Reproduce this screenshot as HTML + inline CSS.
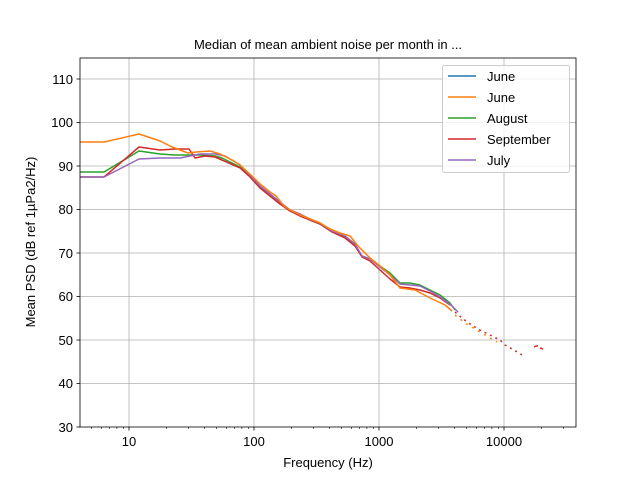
<!DOCTYPE html>
<html><head><meta charset="utf-8"><style>body{margin:0;background:#fff}svg{display:block}</style></head><body>
<svg width="640" height="480" viewBox="0 0 640 480" font-family="Liberation Sans, DejaVu Sans, sans-serif">
<rect width="640" height="480" fill="#fff"/>
<g stroke="#b0b0b0" stroke-width="0.8">
<line x1="129" y1="58" x2="129" y2="427"/><line x1="254" y1="58" x2="254" y2="427"/><line x1="379" y1="58" x2="379" y2="427"/><line x1="504" y1="58" x2="504" y2="427"/>
<line x1="80" y1="383.5" x2="576" y2="383.5"/><line x1="80" y1="340" x2="576" y2="340"/><line x1="80" y1="296.5" x2="576" y2="296.5"/><line x1="80" y1="253" x2="576" y2="253"/><line x1="80" y1="209.5" x2="576" y2="209.5"/><line x1="80" y1="166" x2="576" y2="166"/><line x1="80" y1="122.5" x2="576" y2="122.5"/><line x1="80" y1="79" x2="576" y2="79"/>
</g>
<g fill="none" stroke-width="1.5" stroke-linejoin="round">
<polyline stroke="#2ca02c" points="80,172 104,172 139,151 160,154 175,155 200,155 215,156 222,158 240,167 250,176 260,187 270,195 280,203 290,211 300,215 310,220 320,224 332,231 345,237 355,245 362,256 370,259 380,266 390,273 400,283 410,283 420,285 430,290 440,295 450,303 455,310"/>
<polyline stroke="#d62728" points="80,177 104,177 139,147 160,150 175,149 189,149 195,158 205,156 215,157 222,160 240,168 250,177 260,188 270,196 280,204 290,211 300,216 310,220 320,224 332,232 345,238 355,246 362,257 370,261 380,270 390,279 400,287 410,288 420,290 430,293 440,298 450,305"/>
<polyline stroke="#9467bd" points="80,177 104,177 139,159 160,158 180,158 200,154 215,154 225,156 240,165 250,175 260,186 270,194 280,202 290,210 300,214 310,219 320,223 332,231 345,236 355,244 362,256 370,259 380,267 390,275 400,284 410,285 420,286 430,291 440,297 452,306 458,312"/>
<polyline stroke="#ff7f0e" points="80,142 104,142 139,134 160,141 172,147 188,153 196,152 210,151 220,154 232,160 240,165 252,176 260,184 270,192 276,196 284,206 292,211 300,215 310,219 320,223 330,229 340,233 350,236 358,246 370,258 380,266 390,275 400,288 415,290 430,298 445,305 452,311"/>
<polyline stroke="#d62728" stroke-dasharray="2,4" points="455,312 462,318 470,324 480,330 490,335 500,340 505,345 512,349 524,356"/>
<polyline stroke="#ff7f0e" stroke-dasharray="2,5" points="455,315 465,323 475,329 497,342"/>
<polyline stroke="#d62728" points="534,347 536,346 538,346"/><polyline stroke="#d62728" points="540,348 543,349"/>
</g>
<rect x="80" y="58" width="496" height="369" fill="none" stroke="#000" stroke-width="0.8"/>
<g stroke="#000" stroke-width="0.6">
<path d="M91.4,427v2M101.3,427v2M109.6,427v2M116.9,427v2M123.3,427v2M166.6,427v2M188.6,427v2M204.3,427v2M216.4,427v2M226.3,427v2M234.6,427v2M241.9,427v2M248.3,427v2M291.6,427v2M313.6,427v2M329.3,427v2M341.4,427v2M351.3,427v2M359.6,427v2M366.9,427v2M373.3,427v2M416.6,427v2M438.6,427v2M454.3,427v2M466.4,427v2M476.3,427v2M484.6,427v2M491.9,427v2M498.3,427v2M541.6,427v2M563.6,427v2"/>
</g>
<g stroke="#000" stroke-width="0.8">
<line x1="129" y1="427" x2="129" y2="430.5"/><line x1="254" y1="427" x2="254" y2="430.5"/><line x1="379" y1="427" x2="379" y2="430.5"/><line x1="504" y1="427" x2="504" y2="430.5"/>
<line x1="76.5" y1="427" x2="80" y2="427"/><line x1="76.5" y1="383.5" x2="80" y2="383.5"/><line x1="76.5" y1="340" x2="80" y2="340"/><line x1="76.5" y1="296.5" x2="80" y2="296.5"/><line x1="76.5" y1="253" x2="80" y2="253"/><line x1="76.5" y1="209.5" x2="80" y2="209.5"/><line x1="76.5" y1="166" x2="80" y2="166"/><line x1="76.5" y1="122.5" x2="80" y2="122.5"/><line x1="76.5" y1="79" x2="80" y2="79"/>
</g>
<g font-size="13" fill="#000" text-anchor="end">
<text x="73" y="432">30</text><text x="73" y="388">40</text><text x="73" y="345">50</text><text x="73" y="301">60</text><text x="73" y="258">70</text><text x="73" y="214">80</text><text x="73" y="171">90</text><text x="73" y="127">100</text><text x="73" y="84">110</text>
</g>
<g font-size="13" fill="#000" text-anchor="middle">
<text x="129" y="446">10</text><text x="254" y="446">100</text><text x="379" y="446">1000</text><text x="504" y="446">10000</text>
<text x="328" y="467">Frequency (Hz)</text>
<text x="328" y="49">Median of mean ambient noise per month in ...</text>
<text transform="translate(35,242) rotate(-90)">Mean PSD (dB ref 1µPa2/Hz)</text>
</g>
<rect x="442.5" y="65.5" width="127" height="107" rx="2" fill="#fff" fill-opacity="0.8" stroke="#ccc"/>
<g stroke-width="1.5">
<line x1="448" y1="76" x2="476" y2="76" stroke="#1f77b4"/><line x1="448" y1="97" x2="476" y2="97" stroke="#ff7f0e"/><line x1="448" y1="118" x2="476" y2="118" stroke="#2ca02c"/><line x1="448" y1="139" x2="476" y2="139" stroke="#d62728"/><line x1="448" y1="160" x2="476" y2="160" stroke="#9467bd"/>
</g>
<g font-size="13" fill="#000">
<text x="487" y="81">June</text><text x="487" y="102">June</text><text x="487" y="123">August</text><text x="487" y="144">September</text><text x="487" y="165">July</text>
</g>
</svg>
</body></html>
